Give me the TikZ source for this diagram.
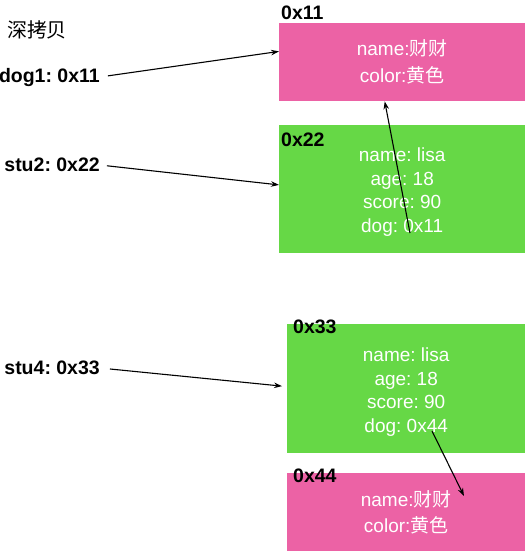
\documentclass[tikz,border=0pt]{standalone}
\usepackage{fontspec}
\setmainfont{Liberation Sans}
\newfontfamily\cjk{Noto Sans CJK SC}
\usetikzlibrary{positioning}
\usetikzlibrary{arrows.meta}
\definecolor{dogpink}{RGB}{236,98,165}
\definecolor{stugreen}{RGB}{102,216,70}
\frenchspacing

\tikzset{
heapbox/.style={inner sep=0pt, anchor=north west, text=white, align=center, font=\fontsize{19}{23.5}\selectfont},
addr/.style={inner sep=0pt, font=\fontsize{19.5}{23}\selectfont\bfseries},
ptr/.style={-{Stealth[length=8pt,width=5.5pt]}, line width=1.1pt},
}

\begin{document}
\begin{tikzpicture}[x=1pt,y=-1pt]
\useasboundingbox (0,0) rectangle (525,555);

% boxes
{
\node[heapbox, fill=dogpink, minimum width=246pt, minimum height=78pt] (dogA) at (279,23)
{name:{\cjk 财财}\\[3.5pt]color:{\cjk 黄色}};
\node[heapbox, fill=stugreen, minimum width=246pt, minimum height=128pt] (stuA) at (279,125)
{\rule{0pt}{20pt}name: lisa\\age: 18\\score: 90\\dog: 0x11};

\node[heapbox, fill=stugreen, minimum width=238pt, minimum height=129pt] (stuB) at (287,324)
{\rule{0pt}{21pt}name: lisa\\age: 18\\score: 90\\dog: 0x44};
\node[heapbox, fill=dogpink, minimum width=238pt, minimum height=78pt] (dogB) at (287,473)
{name:{\cjk 财财}\\[2.5pt]color:{\cjk 黄色}};
}

% labellings
{
\node[inner sep=0pt, font=\fontsize{20}{23}\selectfont\cjk] (title) at (37,30) {深拷贝};

\node[addr, anchor=east] (dogone) at (100,77) {dog1: 0x11};
\node[addr, anchor=east] (stutwo) at (100,165) {stu2: 0x22};
\node[addr, anchor=east] (stufour) at (100,368) {stu4: 0x33};

\node[addr, above right=3pt and 2pt of dogA.north west] (adrA) {0x11};
\node[addr, below right=8pt and 2pt of stuA.north west] (adrB) {0x22};
\node[addr, below right=-4pt and 6pt of stuB.north west] (adrC) {0x33};
\node[addr, below right=-4pt and 6pt of dogB.north west] (adrD) {0x44};
}

% pointers
{
\coordinate (dogptrA) at (410,233);
\coordinate (dogptrB) at (432,431);
\coordinate (dogtipB) at (464,496);

\draw[ptr, shorten <=8pt] (dogone.east) -- (dogA.175);
\draw[ptr, shorten <=7pt] (stutwo.east) -- (stuA.178);
\draw[ptr, shorten <=10pt, shorten >=5pt] (stufour.east) -- (stuB.179);
\draw[ptr] (dogptrA) -- (dogA.246);
\draw[ptr] (dogptrB) -- (dogtipB);
}
\end{tikzpicture}
\end{document}
